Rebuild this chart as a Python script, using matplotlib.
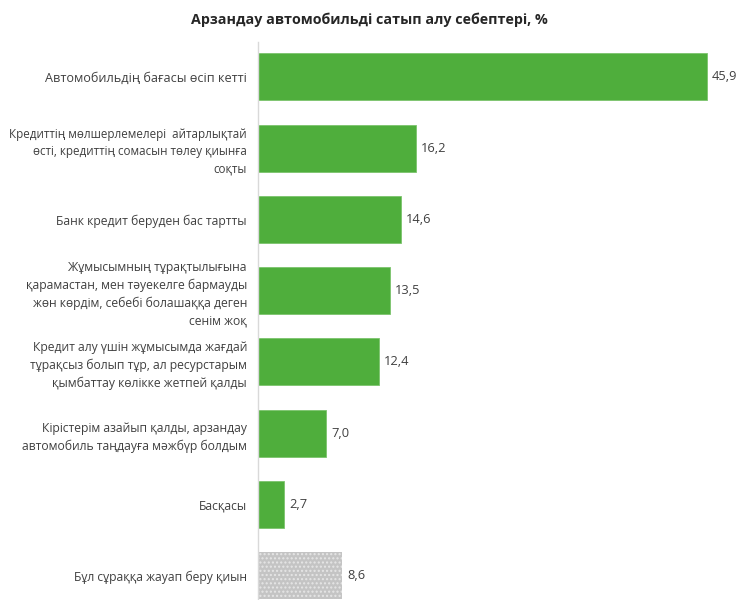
import matplotlib
matplotlib.use("Agg")
import matplotlib.pyplot as plt

plt.rcParams['font.family'] = ['Open Sans', 'DejaVu Sans']

# reasons for buying a cheaper car, % of respondents
reasons = [
    "Автомобильдің бағасы өсіп кетті",
    "Кредиттің мөлшерлемелері  айтарлықтай\nөсті, кредиттің сомасын төлеу қиынға\nсоқты",
    "Банк кредит беруден бас тартты",
    "Жұмысымның тұрақтылығына\nқарамастан, мен тәуекелге бармауды\nжөн көрдім, себебі болашаққа деген\nсенім жоқ",
    "Кредит алу үшін жұмысымда жағдай\nтұрақсыз болып тұр, ал ресурстарым\nқымбаттау көлікке жетпей қалды",
    "Кірістерім азайып қалды, арзандау\nавтомобиль таңдауға мәжбүр болдым",
    "Басқасы",
    "Бұл сұраққа жауап беру қиын",
]
shares = [45.9, 16.2, 14.6, 13.5, 12.4, 7.0, 2.7, 8.6]
is_hard_to_say = [False] * 7 + [True]

GREEN = '#4fae3c'
TEXT = '#404040'

fig = plt.figure(figsize=(7.39, 6.0), dpi=100)
ax = fig.add_axes([258 / 739, 0.0, (737 - 258) / 739, 1 - 42 / 600])

ypos = list(range(len(reasons)))
for y, v, grey in zip(ypos, shares, is_hard_to_say):
    if grey:
        ax.barh(y, v, height=0.66, color='#c4c4c4', edgecolor='#e6e6e6',
                hatch='....', linewidth=0)
    else:
        ax.barh(y, v, height=0.66, color=GREEN, edgecolor='#7cc46c', linewidth=0.6)
    ax.text(v + 0.5, y, f"{v:.1f}".replace('.', ','), va='center', ha='left',
            fontsize=9.3, color=TEXT)

ax.set_xlim(0, 49)
ax.set_ylim(7.34, -0.49)
ax.set_yticks(ypos)
ax.set_yticklabels(reasons, fontsize=8.7, color=TEXT, linespacing=1.45)
ax.get_yticklabels()[0].set_fontsize(9.1)
ax.get_yticklabels()[1].set_fontsize(8.4)
ax.tick_params(axis='y', length=0, pad=8)
ax.set_xticks([])
for side in ('top', 'right', 'bottom'):
    ax.spines[side].set_visible(False)
ax.spines['left'].set_color('#d9d9d9')
ax.spines['left'].set_linewidth(1.0)

fig.text(0.5, 1 - 20 / 600, "Арзандау автомобильді сатып алу себептері, %",
         ha='center', va='center', fontsize=10.3, fontweight='bold', color='#262626')

fig.savefig('out.png', dpi=100)
